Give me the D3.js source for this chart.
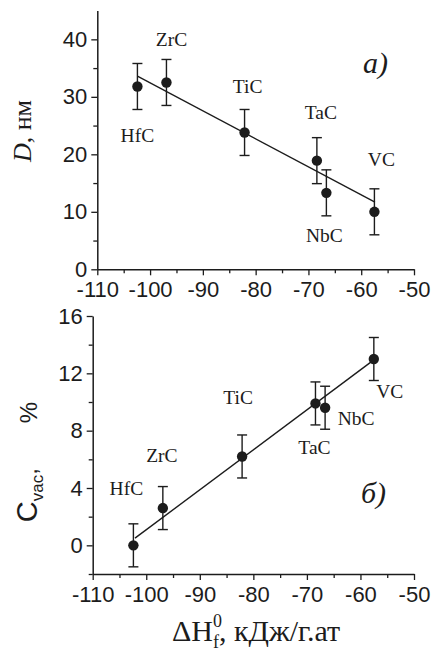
<!DOCTYPE html>
<html>
<head>
<meta charset="utf-8">
<script src="https://cdn.jsdelivr.net/npm/d3@7"></script>
<style>
  body { margin: 0; background: #fff; }
  svg { display: block; }
  .serif { font-family: "Liberation Serif", "Times New Roman", serif; }
  .sans { font-family: "Liberation Sans", Arial, sans-serif; }
</style>
</head>
<body>
<svg id="chart" width="436" height="648"></svg>
<script>
// carbides, formation enthalpy (kJ/g-atom)
const compounds = ['HfC', 'ZrC', 'TiC', 'TaC', 'NbC', 'VC'];
const enthalpy = [-102.4, -96.9, -82.1, -68.4, -66.6, -57.5];
const grainSize = [31.8, 32.5, 23.8, 18.9, 13.3, 10.0];
const grainErr = [4, 4, 4, 4, 4, 4];
const vacancy = [0.0, 2.6, 6.2, 9.9, 9.6, 13.0];
const vacancyErr = [1.5, 1.5, 1.5, 1.5, 1.5, 1.5];
const grainFit = [[-102.4, 33.6], [-57.4, 11.7]];
const vacancyFit = [[-102.1, 0.5], [-58.0, 12.8]];
const xTicks = [-110, -100, -90, -80, -70, -60, -50];
const topYTicks = [0, 10, 20, 30, 40];
const botYTicks = [0, 4, 8, 12, 16];

const ink = '#1c1c1c';
const svg = d3.select('#chart');

function panel(opt) {
  const g = svg.append('g');
  const x = d3.scaleLinear().domain([-110, -50]).range(opt.xr);
  const y = d3.scaleLinear().domain(opt.yd).range(opt.yr);

  // minor ticks
  g.append('g')
    .attr('transform', `translate(0,${opt.yr[0]})`)
    .call(d3.axisBottom(x).tickValues(d3.range(-105, -50, 10)).tickSize(4).tickFormat(''))
    .call(a => a.select('.domain').remove());
  g.append('g')
    .attr('transform', `translate(${opt.xr[0]},0)`)
    .call(d3.axisLeft(y).tickValues(opt.minor).tickSize(4).tickFormat(''))
    .call(a => a.select('.domain').remove());

  const xa = g.append('g')
    .attr('transform', `translate(0,${opt.yr[0]})`)
    .call(d3.axisBottom(x).tickValues(xTicks).tickSize(6).tickPadding(6)
      .tickSizeOuter(0).tickFormat(d => String(d)));
  const ya = g.append('g')
    .attr('transform', `translate(${opt.xr[0]},0)`)
    .call(d3.axisLeft(y).tickValues(opt.ticks).tickSize(6).tickPadding(4)
      .tickSizeOuter(0).tickFormat(d => String(d)));

  g.selectAll('.tick line').attr('stroke', ink).attr('stroke-width', 1.3);
  g.selectAll('.domain').attr('stroke', ink).attr('stroke-width', 1.5);
  [xa, ya].forEach(a => {
    a.attr('font-family', null).attr('font-size', null);
    a.selectAll('text')
      .attr('class', 'sans')
      .attr('fill', ink)
      .style('font-size', '22px');
  });

  // fit line
  g.append('line')
    .attr('x1', x(opt.fit[0][0])).attr('y1', y(opt.fit[0][1]))
    .attr('x2', x(opt.fit[1][0])).attr('y2', y(opt.fit[1][1]))
    .attr('stroke', ink).attr('stroke-width', 1.4);

  const pts = compounds.map((c, i) => ({ c, x: enthalpy[i], y: opt.vals[i], e: opt.errs[i], off: opt.offs[i] }));

  const eb = g.selectAll('.eb').data(pts).enter().append('g').attr('class', 'eb')
    .attr('stroke', ink).attr('stroke-width', 1.4);
  eb.append('line')
    .attr('x1', d => x(d.x)).attr('x2', d => x(d.x))
    .attr('y1', d => y(d.y - d.e)).attr('y2', d => y(d.y + d.e));
  eb.append('line')
    .attr('x1', d => x(d.x) - 5).attr('x2', d => x(d.x) + 5)
    .attr('y1', d => y(d.y + d.e)).attr('y2', d => y(d.y + d.e));
  eb.append('line')
    .attr('x1', d => x(d.x) - 5).attr('x2', d => x(d.x) + 5)
    .attr('y1', d => y(d.y - d.e)).attr('y2', d => y(d.y - d.e));

  g.selectAll('.dot').data(pts).enter().append('circle')
    .attr('cx', d => x(d.x)).attr('cy', d => y(d.y)).attr('r', 5.2)
    .attr('fill', ink);

  g.selectAll('.lbl').data(pts).enter().append('text')
    .attr('class', 'serif')
    .attr('x', d => x(d.x) + d.off[0])
    .attr('y', d => y(d.y) + d.off[1])
    .attr('text-anchor', 'middle')
    .attr('fill', ink)
    .style('font-size', '19.5px')
    .text(d => d.c);

  g.append('text')
    .attr('class', 'serif')
    .attr('x', opt.tag[0]).attr('y', opt.tag[1])
    .attr('fill', ink)
    .style('font-style', 'italic')
    .style('font-size', '30px')
    .text(opt.tagText);
  return g;
}

panel({
  xr: [97.3, 414], yd: [0, 45], yr: [269.3, 10.6],
  ticks: topYTicks, minor: [5, 15, 25, 35],
  vals: grainSize, errs: grainErr, fit: grainFit,
  offs: [[0, 56], [5, -36], [3, -39], [4, -42], [-2, 49], [7, -46]],
  tag: [363, 73], tagText: 'a)'
});

panel({
  xr: [92.7, 414], yd: [-2, 16], yr: [574, 316],
  ticks: botYTicks, minor: [-2, 2, 6, 10, 14],
  vals: vacancy, errs: vacancyErr, fit: vacancyFit,
  offs: [[-7, -50], [-1, -46], [-4, -52], [-1, 51], [31, 17], [16, 39]],
  tag: [361, 503], tagText: 'б)'
});

// axis titles
const yt1 = svg.append('text')
  .attr('class', 'serif')
  .attr('transform', 'translate(31,131) rotate(-90)')
  .attr('text-anchor', 'middle')
  .attr('fill', ink)
  .style('font-size', '26px');
yt1.append('tspan').style('font-style', 'italic').text('D');
yt1.append('tspan').text(', нм');

const yt2 = svg.append('text')
  .attr('class', 'sans')
  .attr('transform', 'translate(37,462) rotate(-90)')
  .attr('text-anchor', 'middle')
  .attr('fill', ink)
  .style('font-size', '29px');
yt2.append('tspan').text('C');
yt2.append('tspan').attr('dy', 6).style('font-size', '17px').text('vac');
yt2.append('tspan').attr('dy', -6).style('font-size', '24px').text(',');
yt2.append('tspan').attr('dx', 45).style('font-size', '24px').text('%');

const xt = svg.append('text')
  .attr('class', 'serif')
  .attr('x', 256).attr('y', 641)
  .attr('text-anchor', 'middle')
  .attr('fill', ink)
  .style('font-size', '30px');
xt.append('tspan').text('ΔH');
xt.append('tspan').attr('dy', -14).style('font-size', '18px').text('0');
xt.append('tspan').attr('dx', -9).attr('dy', 21).style('font-size', '18px').text('f');
xt.append('tspan').attr('dy', -7).text(', кДж/г.ат');
</script>
</body>
</html>
